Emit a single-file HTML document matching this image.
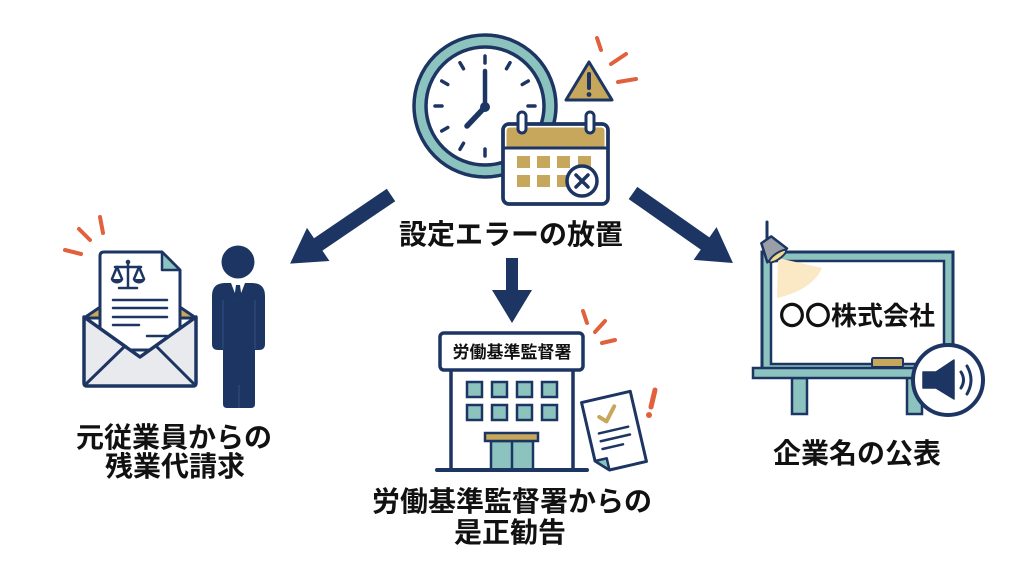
<!DOCTYPE html>
<html>
<head>
<meta charset="utf-8">
<style>
html,body{margin:0;padding:0;background:#fff;}
svg{display:block;}
text{font-family:"Liberation Sans","Noto Sans CJK JP",sans-serif;font-weight:700;}
</style>
</head>
<body>
<svg width="1024" height="571" viewBox="0 0 1024 571" xmlns="http://www.w3.org/2000/svg">
<rect width="1024" height="571" fill="#fff"/>
<defs>
<style>
.nv{stroke:#1d3563;}
</style>
</defs>

<!-- ===== Clock ===== -->
<circle cx="485" cy="106" r="71" fill="#8cc3bf" stroke="#1d3563" stroke-width="3.5"/>
<circle cx="485" cy="106" r="59" fill="#fff" stroke="#1d3563" stroke-width="3.5"/>
<g stroke="#1d3563" stroke-width="3.5" stroke-linecap="round">
  <g transform="translate(485,106)">
    <line x1="0" y1="-43" x2="0" y2="-50" transform="rotate(0)"/>
    <line x1="0" y1="-43" x2="0" y2="-50" transform="rotate(30)"/>
    <line x1="0" y1="-43" x2="0" y2="-50" transform="rotate(60)"/>
    <line x1="0" y1="-43" x2="0" y2="-50" transform="rotate(90)"/>
    <line x1="0" y1="-43" x2="0" y2="-50" transform="rotate(120)"/>
    <line x1="0" y1="-43" x2="0" y2="-50" transform="rotate(150)"/>
    <line x1="0" y1="-43" x2="0" y2="-50" transform="rotate(180)"/>
    <line x1="0" y1="-43" x2="0" y2="-50" transform="rotate(210)"/>
    <line x1="0" y1="-43" x2="0" y2="-50" transform="rotate(240)"/>
    <line x1="0" y1="-43" x2="0" y2="-50" transform="rotate(270)"/>
    <line x1="0" y1="-43" x2="0" y2="-50" transform="rotate(300)"/>
    <line x1="0" y1="-43" x2="0" y2="-50" transform="rotate(330)"/>
  </g>
  <line x1="485" y1="107" x2="485" y2="71" stroke-width="4.5"/>
  <line x1="485" y1="107" x2="467" y2="126" stroke-width="5.5"/>
</g>
<circle cx="485" cy="107" r="5" fill="#1d3563"/>

<!-- Calendar -->
<rect x="503" y="124" width="105" height="80" rx="6" fill="#fff" stroke="#1d3563" stroke-width="3.5"/>
<path d="M506.5,148 L506.5,131 Q506.5,127.5 510,127.5 L601,127.5 Q604.5,127.5 604.5,131 L604.5,148 Z" fill="#c7a75b"/>
<line x1="503" y1="148" x2="608" y2="148" stroke="#1d3563" stroke-width="3"/>
<rect x="503" y="124" width="105" height="80" rx="6" fill="none" stroke="#1d3563" stroke-width="3.5"/>
<rect x="518" y="112" width="8" height="21" rx="4" fill="#fff" stroke="#1d3563" stroke-width="3"/>
<rect x="586" y="112" width="8" height="21" rx="4" fill="#fff" stroke="#1d3563" stroke-width="3"/>
<g fill="#c7a75b">
  <rect x="517" y="156" width="13" height="12"/>
  <rect x="537" y="156" width="13" height="12"/>
  <rect x="557" y="156" width="13" height="12"/>
  <rect x="578" y="156" width="13" height="12"/>
  <rect x="517" y="175" width="13" height="12"/>
  <rect x="537" y="175" width="13" height="12"/>
  <rect x="557" y="175" width="13" height="12"/>
</g>
<circle cx="582" cy="181" r="15" fill="#fff" stroke="#1d3563" stroke-width="3.5"/>
<g stroke="#1d3563" stroke-width="3.5" stroke-linecap="round">
  <line x1="576" y1="175" x2="588" y2="187"/>
  <line x1="588" y1="175" x2="576" y2="187"/>
</g>

<!-- Warning -->
<path d="M589,62 L612,100 L566,100 Z" fill="#c7a75b" stroke="#1d3563" stroke-width="3" stroke-linejoin="round"/>
<line x1="589" y1="74" x2="589" y2="88" stroke="#1d3563" stroke-width="4" stroke-linecap="round"/>
<circle cx="589" cy="94.5" r="2.4" fill="#1d3563"/>
<g stroke="#e2613d" stroke-width="4" stroke-linecap="round">
  <line x1="597" y1="38" x2="601" y2="50"/>
  <line x1="611" y1="64" x2="626" y2="54"/>
  <line x1="618" y1="82" x2="636" y2="79"/>
</g>

<!-- ===== Arrows ===== -->
<g fill="#1d3563">
  <g transform="translate(391,195) rotate(145.8)">
    <polygon points="0,-7.5 88,-7.5 88,-20 122,0 88,20 88,7.5 0,7.5"/>
  </g>
  <g transform="translate(633,193) rotate(35)">
    <polygon points="0,-7.5 88,-7.5 88,-20 122,0 88,20 88,7.5 0,7.5"/>
  </g>
  <polygon points="506,258 518,258 518,290 532,290 512,323 492,290 506,290"/>
</g>

<text x="511" y="244" font-size="28" text-anchor="middle" fill="#111">設定エラーの放置</text>

<!-- ===== Left: envelope ===== -->
<g stroke="#e2613d" stroke-width="4" stroke-linecap="round">
  <line x1="65" y1="250" x2="81" y2="254"/>
  <line x1="79" y1="229" x2="90" y2="240"/>
  <line x1="100" y1="217" x2="103" y2="233"/>
</g>
<polygon points="84,318 140,280 196,318" fill="#c7a75b" stroke="#1d3563" stroke-width="3" stroke-linejoin="round"/>
<path d="M100,256 Q100,252 104,252 L162,252 L180,270 L180,350 L100,350 Z" fill="#fff" stroke="#1d3563" stroke-width="3" stroke-linejoin="round"/>
<path d="M162,252 L162,270 L180,270 Z" fill="#8cc3bf" stroke="#1d3563" stroke-width="2.5" stroke-linejoin="round"/>
<!-- scales -->
<g stroke="#1d3563" stroke-width="2.5" stroke-linecap="round" fill="none">
  <line x1="128" y1="262" x2="128" y2="287"/>
  <line x1="119" y1="288" x2="137" y2="288"/>
  <line x1="115" y1="267" x2="141" y2="267"/>
  <line x1="117" y1="267" x2="112" y2="279"/>
  <line x1="117" y1="267" x2="122" y2="279"/>
  <line x1="139" y1="267" x2="134" y2="279"/>
  <line x1="139" y1="267" x2="144" y2="279"/>
</g>
<path d="M111,279 A6,4.5 0 0 0 123,279 Z" fill="#1d3563"/>
<path d="M133,279 A6,4.5 0 0 0 145,279 Z" fill="#1d3563"/>
<circle cx="128" cy="262" r="2.3" fill="#1d3563"/>
<g stroke="#1d3563" stroke-width="2.5" stroke-linecap="round">
  <line x1="113" y1="300" x2="167" y2="300"/>
  <line x1="113" y1="308" x2="167" y2="308"/>
  <line x1="113" y1="317" x2="167" y2="317"/>
  <line x1="113" y1="325" x2="139" y2="325"/>
  <line x1="147" y1="336" x2="167" y2="336"/>
</g>
<path d="M84,317 L140,357 L196,317 L196,383 Q196,386 193,386 L87,386 Q84,386 84,383 Z" fill="#e9eaee" stroke="#1d3563" stroke-width="3.5" stroke-linejoin="round"/>
<g stroke="#1d3563" stroke-width="3" stroke-linecap="round">
  <line x1="87" y1="383" x2="124" y2="347"/>
  <line x1="193" y1="383" x2="157" y2="347"/>
</g>

<!-- Person -->
<g fill="#1d3563">
  <circle cx="238" cy="262" r="16.5"/>
  <path d="M212,296 Q212,283 225,283 L252,283 Q265,283 265,296 L265,344 Q265,350 259,350 L255,350 L255,404 Q255,408 251,408 L227,408 Q223,408 223,404 L223,350 L218,350 Q212,350 212,344 Z"/>
</g>
<polygon points="231,283 245,283 238,301" fill="#fff"/>
<polygon points="236,285 240,285 241.5,296 238,301 234.5,296" fill="#1d3563"/>
<g stroke="#2f4a7c" stroke-width="1.2">
  <line x1="223" y1="300" x2="223" y2="349"/>
  <line x1="255" y1="300" x2="255" y2="349"/>
  <line x1="239" y1="385" x2="239" y2="408"/>
</g>

<text x="174" y="447" font-size="28" text-anchor="middle" fill="#111">元従業員からの</text>
<text x="175" y="476" font-size="28" text-anchor="middle" fill="#111">残業代請求</text>

<!-- ===== Middle: building ===== -->
<g stroke="#e2613d" stroke-width="4" stroke-linecap="round">
  <line x1="583" y1="311" x2="587" y2="323"/>
  <line x1="595" y1="332" x2="605" y2="321"/>
  <line x1="602" y1="343" x2="615" y2="340"/>
</g>
<rect x="451" y="368" width="122" height="102" fill="#fff" stroke="#1d3563" stroke-width="3.5"/>
<rect x="440" y="333" width="143" height="37" rx="4" fill="#fff" stroke="#1d3563" stroke-width="3.5"/>
<text x="512" y="358" font-size="17" text-anchor="middle" fill="#111">労働基準監督署</text>
<g fill="#8cc3bf" stroke="#1d3563" stroke-width="2.5">
  <rect x="467" y="382" width="15" height="15"/>
  <rect x="492" y="382" width="15" height="15"/>
  <rect x="517" y="382" width="15" height="15"/>
  <rect x="542" y="382" width="15" height="15"/>
  <rect x="467" y="405" width="15" height="15"/>
  <rect x="492" y="405" width="15" height="15"/>
  <rect x="517" y="405" width="15" height="15"/>
  <rect x="542" y="405" width="15" height="15"/>
  <rect x="491" y="441" width="42" height="29"/>
</g>
<line x1="512" y1="441" x2="512" y2="470" stroke="#1d3563" stroke-width="2.5"/>
<rect x="485" y="433" width="53" height="8" fill="#c7a75b" stroke="#1d3563" stroke-width="2.5"/>
<line x1="437" y1="470" x2="587" y2="470" stroke="#1d3563" stroke-width="4" stroke-linecap="round"/>

<!-- document -->
<g transform="rotate(-13 614 432)">
  <path d="M589,396 L639,396 L639,468 L601,468 L589,456 Z" fill="#fff" stroke="#1d3563" stroke-width="3" stroke-linejoin="round"/>
  <path d="M589,456 L601,456 L601,468 Z" fill="#8cc3bf" stroke="#1d3563" stroke-width="2.5" stroke-linejoin="round"/>
  <path d="M603,414 L609,420 L620,407" fill="none" stroke="#c7a75b" stroke-width="4" stroke-linecap="round" stroke-linejoin="round"/>
  <g stroke="#1d3563" stroke-width="2.5" stroke-linecap="round">
    <line x1="599" y1="430" x2="629" y2="430"/>
    <line x1="599" y1="438" x2="629" y2="438"/>
    <line x1="599" y1="446" x2="620" y2="446"/>
  </g>
</g>
<line x1="655" y1="390" x2="651" y2="407" stroke="#e2613d" stroke-width="5" stroke-linecap="round"/>
<circle cx="649" cy="415" r="3" fill="#e2613d"/>

<text x="512" y="511" font-size="28" text-anchor="middle" fill="#111">労働基準監督署からの</text>
<text x="510" y="542" font-size="28" text-anchor="middle" fill="#111">是正勧告</text>

<!-- ===== Right: board ===== -->
<rect x="762" y="252" width="191" height="118" fill="#8cc3bf" stroke="#1d3563" stroke-width="3"/>
<rect x="771" y="261" width="173" height="103" fill="#fff" stroke="#1d3563" stroke-width="2.5"/>
<path d="M778,258 L822,268 Q812,290 777,298 Z" fill="#fbe8c4"/>
<line x1="767" y1="222" x2="767" y2="242" stroke="#1d3563" stroke-width="3" stroke-linecap="round"/>
<g transform="rotate(-35 772 248)">
  <path d="M766,238 L778,238 L784,257 L760,257 Z" fill="#9a9ea6" stroke="#1d3563" stroke-width="2.5" stroke-linejoin="round"/>
  <ellipse cx="772" cy="258" rx="10" ry="3" fill="#f4d98a" stroke="#1d3563" stroke-width="2"/>
</g>
<text x="857" y="325" font-size="26" text-anchor="middle" fill="#111">〇〇株式会社</text>
<rect x="872" y="358" width="31" height="9" rx="1.5" fill="#c7a75b" stroke="#1d3563" stroke-width="2"/>
<rect x="792" y="378" width="15" height="36" fill="#8cc3bf" stroke="#1d3563" stroke-width="2.5"/>
<rect x="907" y="378" width="15" height="36" fill="#8cc3bf" stroke="#1d3563" stroke-width="2.5"/>
<rect x="753" y="368" width="175" height="10" fill="#8cc3bf" stroke="#1d3563" stroke-width="2.5"/>
<circle cx="948" cy="380" r="35" fill="#fff" stroke="#1d3563" stroke-width="4"/>
<path d="M923,372 L936,372 L954,360 L954,399 L936,388 L923,388 Z" fill="#1d3563" stroke="#1d3563" stroke-width="1.5" stroke-linejoin="round"/>
<g fill="none" stroke="#1d3563" stroke-width="3" stroke-linecap="round">
  <path d="M961,372 Q966,380 961,388"/>
  <path d="M967,366 Q975,380 967,394"/>
</g>

<text x="857" y="463" font-size="28" text-anchor="middle" fill="#111">企業名の公表</text>
</svg>
</body>
</html>
